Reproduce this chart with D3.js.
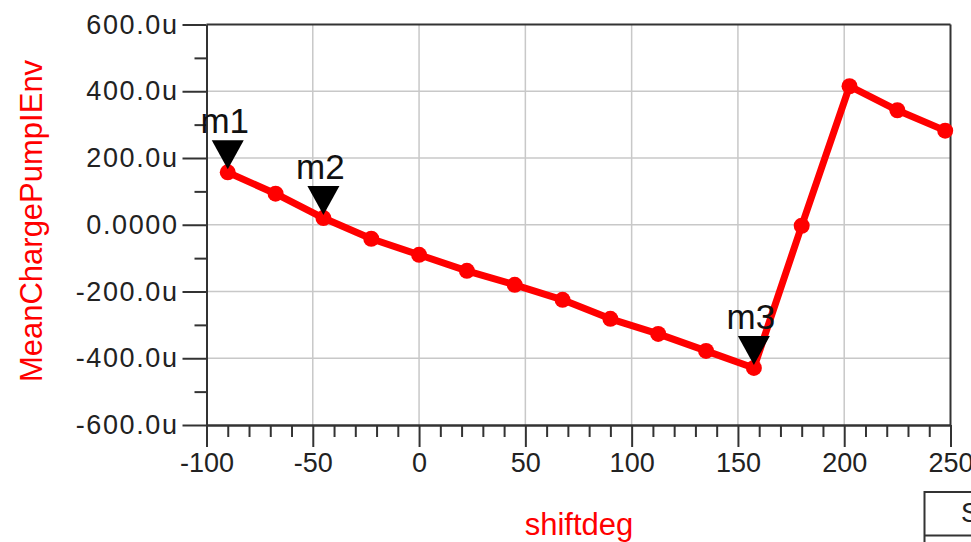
<!DOCTYPE html>
<html>
<head>
<meta charset="utf-8">
<script src="https://cdn.jsdelivr.net/npm/d3@7"></script>
<style>
  body { margin: 0; background: #fff; }
  svg { display: block; font-family: "Liberation Sans", Arial, sans-serif; }
</style>
</head>
<body>
<div id="container"></div>
<script>
'use strict'

// data (y in micro units)
const shiftdeg = [-90, -67.5, -45, -22.5, 0, 22.5, 45, 67.5, 90, 112.5, 135, 157.5, 180, 202.5, 225, 247.5];
const meanCharge = [157, 93, 20, -42, -90, -138, -180, -225, -282, -327, -378, -429, -3, 415, 343, 282];

const markerNames = ["m1", "m2", "m3"];
const markerIndex = [0, 2, 11];

const xTicks = [-100, -50, 0, 50, 100, 150, 200, 250];
const xTickLabels = ["-100", "-50", "0", "50", "100", "150", "200", "250"];
const yTicks = [-600, -400, -200, 0, 200, 400, 600];
const yTickLabels = ["-600.0u", "-400.0u", "-200.0u", "0.0000", "200.0u", "400.0u", "600.0u"];
const yMinor = [-500, -300, -100, 100, 300, 500];

const w = 971, h = 542;
const svg = d3.select("#container").append("svg")
              .attr("width", w).attr("height", h);

const xScale = d3.scaleLinear().domain([-100, 250]).range([206.5, 950.5]);
const yScale = d3.scaleLinear().domain([-600, 600]).range([425, 24.5]);

const axisColor = "#333";

//Grid
const grid = svg.append("g");
grid.selectAll(".vg").data(xTicks.slice(1, -1)).enter().append("line")
    .attr("x1", d => xScale(d)).attr("x2", d => xScale(d))
    .attr("y1", yScale(600)).attr("y2", yScale(-600))
    .attr("stroke", "#c8c8c8").attr("stroke-width", 1.5);
grid.selectAll(".hg").data(yTicks.slice(1, -1)).enter().append("line")
    .attr("x1", xScale(-100)).attr("x2", xScale(250))
    .attr("y1", d => yScale(d)).attr("y2", d => yScale(d))
    .attr("stroke", "#c8c8c8").attr("stroke-width", 1.5);

//Border top / right
svg.append("line").attr("x1", xScale(-100)).attr("x2", xScale(250))
   .attr("y1", yScale(600)).attr("y2", yScale(600))
   .attr("stroke", axisColor).attr("stroke-width", 2);
svg.append("line").attr("x1", xScale(250)).attr("x2", xScale(250))
   .attr("y1", yScale(600)).attr("y2", yScale(-600))
   .attr("stroke", axisColor).attr("stroke-width", 2);

//Axes
const xMinorAxis = d3.axisBottom(xScale)
    .tickValues(d3.range(-100, 251, 10).filter(v => v % 50 !== 0))
    .tickSize(12).tickSizeOuter(0).tickFormat("");
const xAxis = d3.axisBottom(xScale).tickValues(xTicks)
    .tickSize(22).tickSizeOuter(0).tickPadding(6)
    .tickFormat((d, i) => xTickLabels[i]);
const yMinorAxis = d3.axisLeft(yScale).tickValues(yMinor)
    .tickSize(12).tickSizeOuter(0).tickFormat("");
const yAxis = d3.axisLeft(yScale).tickValues(yTicks)
    .tickSize(24).tickSizeOuter(0).tickPadding(4)
    .tickFormat((d, i) => yTickLabels[i]);

function styleAxis(g) {
  g.select(".domain").attr("stroke", axisColor).attr("stroke-width", 2);
  g.selectAll(".tick line").attr("stroke", axisColor).attr("stroke-width", 2);
  g.selectAll(".tick text").attr("fill", "#222").style("font-family", "'Liberation Sans', Arial, sans-serif");
}

svg.append("g").attr("transform", "translate(0," + yScale(-600) + ")").call(xMinorAxis).call(styleAxis);
const gx = svg.append("g").attr("transform", "translate(0," + yScale(-600) + ")").call(xAxis).call(styleAxis);
gx.selectAll(".tick text").style("font-size", "27px");

svg.append("g").attr("transform", "translate(" + xScale(-100) + ",0)").call(yMinorAxis).call(styleAxis);
const gy = svg.append("g").attr("transform", "translate(" + xScale(-100) + ",0)").call(yAxis).call(styleAxis);
gy.selectAll(".tick text").style("font-size", "27px").style("letter-spacing", "1.6px");

//Line + points
const line = d3.line().x((d, i) => xScale(shiftdeg[i])).y(d => yScale(d));
svg.append("path").datum(meanCharge)
   .attr("d", line).attr("fill", "none")
   .attr("stroke", "#ff0000").attr("stroke-width", 7).attr("stroke-linejoin", "round");

svg.selectAll(".pt").data(meanCharge).enter().append("circle")
   .attr("cx", (d, i) => xScale(shiftdeg[i]))
   .attr("cy", d => yScale(d))
   .attr("r", 8).attr("fill", "#ff0000");

//Markers
markerIndex.forEach((k, j) => {
  const px = xScale(shiftdeg[k]), py = yScale(meanCharge[k]);
  svg.append("path")
     .attr("d", "M" + (px - 16) + "," + (py - 32) + "L" + (px + 16) + "," + (py - 32) + "L" + px + "," + (py - 3) + "Z")
     .attr("fill", "#000");
  svg.append("text").text(markerNames[j])
     .attr("x", px - 3).attr("y", py - 39)
     .attr("text-anchor", "middle").attr("fill", "#111")
     .style("font-size", "35px");
});

//Axis titles
svg.append("text").text("shiftdeg")
   .attr("x", 579).attr("y", 535)
   .attr("text-anchor", "middle").attr("fill", "#ff0000")
   .style("font-size", "31px");

svg.append("text").text("MeanChargePumpIEnv")
   .attr("transform", "translate(42,221) rotate(-90)")
   .attr("text-anchor", "middle").attr("fill", "#ff0000")
   .style("font-size", "31px");

//Partial table at bottom right
svg.append("rect").attr("x", 924.5).attr("y", 492).attr("width", 80).attr("height", 80)
   .attr("fill", "none").attr("stroke", axisColor).attr("stroke-width", 2);
svg.append("line").attr("x1", 924.5).attr("x2", 971).attr("y1", 535.5).attr("y2", 535.5)
   .attr("stroke", axisColor).attr("stroke-width", 2);
svg.append("text").text("S").attr("x", 961).attr("y", 522)
   .attr("fill", "#222").style("font-size", "27px");
</script>
</body>
</html>
